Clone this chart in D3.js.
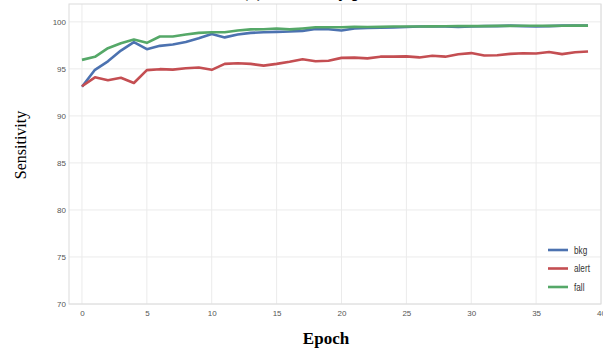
<!DOCTYPE html>
<html>
<head>
<meta charset="utf-8">
<script src="https://cdn.jsdelivr.net/npm/d3@7"></script>
<style>
  html, body { margin: 0; padding: 0; background: #fff; }
  svg { display: block; }
  .tick text { font-family: "Liberation Sans Narrow", "Arial Narrow", "Liberation Sans", sans-serif; fill: #555; }
</style>
</head>
<body>
<svg id="chart" width="603" height="352"></svg>
<script>
// Sensitivity per class over training epochs
const epochs = d3.range(0, 40);
const bkg = [93.1, 94.9, 95.8, 96.95, 97.85, 97.1, 97.45, 97.6, 97.85, 98.25,
             98.7, 98.35, 98.65, 98.83, 98.9, 98.94, 98.97, 99.04, 99.25, 99.22,
             99.08, 99.3, 99.35, 99.38, 99.4, 99.45, 99.5, 99.5, 99.5, 99.45,
             99.5, 99.55, 99.55, 99.6, 99.55, 99.5, 99.55, 99.6, 99.6, 99.6];
const alert = [93.15, 94.1, 93.8, 94.05, 93.5, 94.87, 94.97, 94.92, 95.07, 95.15,
               94.9, 95.53, 95.6, 95.53, 95.35, 95.53, 95.75, 96.03, 95.82, 95.87,
               96.17, 96.2, 96.12, 96.3, 96.3, 96.33, 96.22, 96.4, 96.3, 96.55,
               96.68, 96.42, 96.45, 96.6, 96.67, 96.63, 96.8, 96.57, 96.77, 96.85];
const fall = [95.96, 96.28, 97.2, 97.73, 98.12, 97.77, 98.44, 98.44, 98.65, 98.83,
              98.9, 98.9, 99.08, 99.2, 99.22, 99.3, 99.2, 99.3, 99.43, 99.43,
              99.43, 99.47, 99.45, 99.47, 99.5, 99.5, 99.5, 99.52, 99.53, 99.55,
              99.55, 99.55, 99.57, 99.57, 99.58, 99.58, 99.57, 99.58, 99.6, 99.6];
const seriesNames = ["bkg", "alert", "fall"];
const seriesColors = ["#4c72b0", "#c44e52", "#55a868"];
const xTicks = [0, 5, 10, 15, 20, 25, 30, 35, 40];
const yTicks = [70, 75, 80, 85, 90, 95, 100];

const svg = d3.select("#chart");
const plot = { left: 69, right: 601, top: 4, bottom: 304 };

const x = d3.scaleLinear().domain([-1, 40]).range([plot.left, plot.right]);
const y = d3.scaleLinear().domain([70, 101.9]).range([plot.bottom, plot.top]);

// Title (sits above the visible area)
svg.append("text")
  .attr("x", 330).attr("y", -3)
  .attr("text-anchor", "middle")
  .attr("font-family", "Liberation Serif, Times New Roman, serif")
  .attr("font-weight", "bold")
  .attr("font-size", 18)
  .text("(a) Sensitivity per class");

// Grid
const grid = svg.append("g");
grid.selectAll(".gx").data(xTicks).join("line")
  .attr("x1", d => x(d)).attr("x2", d => x(d))
  .attr("y1", plot.top).attr("y2", plot.bottom)
  .attr("stroke", "#ebebeb").attr("stroke-width", 1);
grid.selectAll(".gy").data(yTicks).join("line")
  .attr("x1", plot.left).attr("x2", plot.right)
  .attr("y1", d => y(d)).attr("y2", d => y(d))
  .attr("stroke", "#ebebeb").attr("stroke-width", 1);

// Frame
svg.append("rect")
  .attr("x", plot.left).attr("y", plot.top)
  .attr("width", plot.right - plot.left).attr("height", plot.bottom - plot.top)
  .attr("fill", "none").attr("stroke", "#dcdcdc").attr("stroke-width", 1);

// Axes
const xAxis = svg.append("g")
  .attr("transform", `translate(0,${plot.bottom})`)
  .call(d3.axisBottom(x).tickValues(xTicks).tickSize(0).tickPadding(6));
xAxis.select(".domain").remove();
xAxis.selectAll("text").attr("font-size", 8);

const yAxis = svg.append("g")
  .attr("transform", `translate(${plot.left},0)`)
  .call(d3.axisLeft(y).tickValues(yTicks).tickSize(0).tickPadding(3));
yAxis.select(".domain").remove();
yAxis.selectAll("text").attr("font-size", 8);

// Lines
const line = d3.line().x((d, i) => x(epochs[i])).y(d => y(d));
[bkg, alert, fall].forEach((vals, k) => {
  svg.append("path")
    .datum(vals)
    .attr("fill", "none")
    .attr("stroke", seriesColors[k])
    .attr("stroke-width", 2.6)
    .attr("stroke-linejoin", "round")
    .attr("d", line);
});

// Legend (condensed labels)
const legend = svg.append("g").attr("transform", "translate(548,250)");
seriesNames.forEach((name, k) => {
  const g = legend.append("g").attr("transform", `translate(0,${k * 18.5})`);
  g.append("line").attr("x1", 0).attr("x2", 20).attr("y1", 0).attr("y2", 0)
    .attr("stroke", seriesColors[k]).attr("stroke-width", 2.6);
  g.append("text")
    .attr("transform", "translate(26,3.5) scale(0.78,1)")
    .attr("font-family", "Liberation Sans, sans-serif")
    .attr("font-size", 10.5).attr("fill", "#333")
    .text(name);
});

// Axis titles
svg.append("text")
  .attr("transform", "translate(26,145) rotate(-90)")
  .attr("text-anchor", "middle")
  .attr("font-family", "Liberation Serif, Times New Roman, serif")
  .attr("font-size", 16)
  .text("Sensitivity");

svg.append("text")
  .attr("x", 326).attr("y", 344)
  .attr("text-anchor", "middle")
  .attr("font-family", "Liberation Serif, Times New Roman, serif")
  .attr("font-weight", "bold")
  .attr("font-size", 17)
  .text("Epoch");
</script>
</body>
</html>
